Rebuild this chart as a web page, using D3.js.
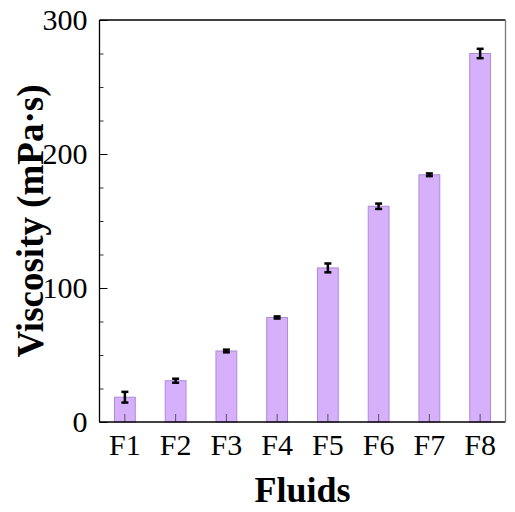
<!DOCTYPE html>
<html>
<head>
<meta charset="utf-8">
<script src="https://cdn.jsdelivr.net/npm/d3@7"></script>
<style>
  body { margin: 0; background: #fff; }
  text { font-family: "Liberation Serif", "Times New Roman", serif; }
</style>
</head>
<body>
<svg id="chart"></svg>
<script>
const width = 515, height = 512;

// data
const fluids = ["F1", "F2", "F3", "F4", "F5", "F6", "F7", "F8"];
const viscosity = [18.5, 30.8, 53, 78, 115, 161, 184.5, 275];
const viscosityErr = [4, 1.5, 1, 0.8, 3.3, 2, 1, 3.5];
const yTicks = [0, 100, 200, 300];

const margin = {top: 20, right: 9.5, bottom: 90, left: 99.5};

const svg = d3.select("#chart")
  .attr("width", width)
  .attr("height", height);

const x = d3.scaleBand()
  .domain(fluids)
  .range([margin.left, width - margin.right])
  .paddingInner(0.59)
  .paddingOuter(0.295);

const y = d3.scaleLinear()
  .domain([0, 300])
  .range([height - margin.bottom, margin.top]);

const data = fluids.map((f, i) => ({name: f, value: viscosity[i], err: viscosityErr[i]}));

// bars
svg.append("g")
  .selectAll("rect")
  .data(data)
  .enter()
  .append("rect")
  .attr("x", d => x(d.name))
  .attr("y", d => y(d.value))
  .attr("width", x.bandwidth())
  .attr("height", d => y(0) - y(d.value))
  .attr("fill", "#d7b0fb")
  .attr("stroke", "#b08ad8")
  .attr("stroke-width", 1);

// x ticks (inward, drawn over bars)
svg.append("g")
  .attr("transform", `translate(0, ${y(0)})`)
  .call(d3.axisBottom(x).tickSize(-8).tickSizeOuter(0).tickPadding(12))
  .call(g => g.select(".domain").remove())
  .call(g => g.selectAll(".tick line").attr("stroke", "#555").attr("stroke-width", 1))
  .call(g => g.selectAll(".tick text")
    .attr("font-family", "Liberation Serif")
    .attr("font-size", 30)
    .attr("fill", "#000"));

// error bars
const eb = svg.append("g").attr("stroke", "#000").attr("stroke-width", 2.5);
data.forEach(d => {
  const cx = x(d.name) + x.bandwidth() / 2;
  eb.append("line")
    .attr("x1", cx).attr("x2", cx)
    .attr("y1", y(d.value - d.err)).attr("y2", y(d.value + d.err));
  [d.value - d.err, d.value + d.err].forEach(v => {
    eb.append("line")
      .attr("x1", cx - 3.5).attr("x2", cx + 3.5)
      .attr("y1", y(v)).attr("y2", y(v));
  });
});

// y axis with major and minor inward ticks
svg.append("g")
  .attr("transform", `translate(${margin.left}, 0)`)
  .call(d3.axisLeft(y).tickValues(d3.range(0, 301, 25)).tickSize(-4).tickSizeOuter(0).tickFormat(""))
  .call(g => g.select(".domain").remove())
  .call(g => g.selectAll(".tick line").attr("stroke", "#333"));

svg.append("g")
  .attr("transform", `translate(${margin.left}, 0)`)
  .call(d3.axisLeft(y).tickValues(yTicks).tickSize(-8).tickSizeOuter(0).tickPadding(12))
  .call(g => g.select(".domain").remove())
  .call(g => g.selectAll(".tick line").attr("stroke", "#000"))
  .call(g => g.selectAll(".tick text")
    .attr("font-family", "Liberation Serif")
    .attr("font-size", 30)
    .attr("fill", "#000"));

// frame
svg.append("line")
  .attr("x1", margin.left).attr("x2", margin.left)
  .attr("y1", margin.top).attr("y2", y(0))
  .attr("stroke", "#000").attr("stroke-width", 1.3);
svg.append("line")
  .attr("x1", margin.left).attr("x2", width - margin.right)
  .attr("y1", y(0)).attr("y2", y(0))
  .attr("stroke", "#000").attr("stroke-width", 1.3);
svg.append("line")
  .attr("x1", margin.left).attr("x2", width - margin.right)
  .attr("y1", margin.top).attr("y2", margin.top)
  .attr("stroke", "#000").attr("stroke-width", 1.3);
svg.append("line")
  .attr("x1", width - margin.right).attr("x2", width - margin.right)
  .attr("y1", margin.top).attr("y2", y(0))
  .attr("stroke", "#777").attr("stroke-width", 1.3);

// axis titles
svg.append("text")
  .attr("x", (margin.left + width - margin.right) / 2)
  .attr("y", 502)
  .attr("text-anchor", "middle")
  .attr("font-size", 36)
  .attr("font-weight", "bold")
  .text("Fluids");

svg.append("text")
  .attr("transform", `translate(43, ${(margin.top + y(0)) / 2}) rotate(-90)`)
  .attr("text-anchor", "middle")
  .attr("font-size", 37)
  .attr("font-weight", "bold")
  .text("Viscosity (mPa·s)");
</script>
</body>
</html>
